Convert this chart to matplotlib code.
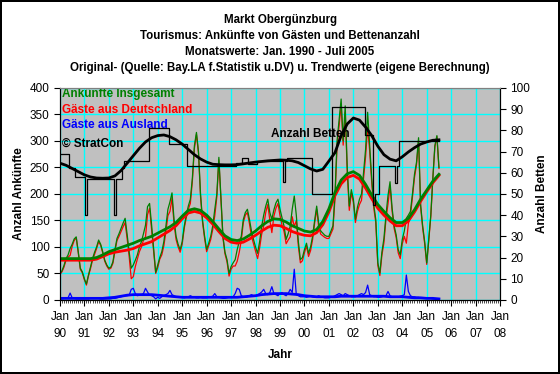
import numpy as np
import matplotlib.pyplot as plt
from matplotlib.ticker import MultipleLocator

plt.rcParams['font.family'] = ['Liberation Sans', 'DejaVu Sans']

# monthly arrivals, Jan 1990 .. Jul 2005
total = [
    50, 55, 65, 78, 85, 97, 105, 115, 119, 91, 60, 53,        # 1990
    40, 30, 47, 62, 78, 90, 100, 113, 105, 91, 75, 66,        # 1991
    60, 62, 72, 95, 116, 125, 135, 145, 154, 123, 90, 60,     # 1992
    66, 75, 85, 100, 110, 125, 141, 176, 182, 141, 97, 52,    # 1993
    66, 80, 91, 110, 139, 171, 185, 202, 152, 120, 105, 95,   # 1994
    110, 139, 160, 177, 190, 230, 291, 316, 280, 200, 150, 120,  # 1995
    95, 107, 120, 140, 171, 200, 269, 196, 120, 90, 76, 50,   # 1996
    63, 70, 76, 95, 110, 120, 152, 165, 171, 152, 130, 114,   # 1997
    100, 88, 110, 139, 160, 177, 190, 165, 152, 170, 183, 190,  # 1998
    171, 155, 139, 114, 125, 139, 171, 196, 160, 110, 76, 80,   # 1999
    95, 107, 88, 100, 120, 150, 177, 145, 130, 126, 122, 120,   # 2000
    120, 130, 140, 200, 300, 340, 379, 300, 366, 250, 177, 208, # 2001
    190, 152, 175, 190, 200, 240, 284, 354, 291, 230, 180, 152, # 2002
    70, 51, 90, 116, 160, 197, 223, 174, 140, 123, 95, 85,      # 2003
    114, 130, 154, 160, 167, 200, 237, 260, 306, 180, 140, 110, # 2004
    70, 114, 160, 230, 291, 310, 250,                           # 2005
]
foreign = [
    2, 2, 3, 3, 4, 13, 4, 3, 2, 2, 2, 2,
    2, 2, 2, 3, 3, 4, 3, 3, 2, 2, 2, 2,
    2, 2, 3, 3, 4, 5, 6, 7, 8, 8, 9, 20,
    22, 12, 8, 9, 10, 12, 22, 15, 9, 8, 6, 2,
    5, 3, 6, 8, 10, 12, 18, 10, 8, 6, 5, 5,
    5, 4, 5, 6, 8, 6, 5, 4, 4, 5, 4, 4,
    4, 5, 6, 7, 12, 6, 5, 4, 3, 3, 4, 5,
    5, 6, 12, 22, 20, 8, 6, 5, 6, 8, 10, 8,
    8, 10, 12, 15, 20, 12, 10, 14, 25, 12, 10, 8,
    12, 14, 10, 8, 12, 20, 14, 58, 10, 8, 6, 6,
    6, 5, 6, 7, 6, 5, 6, 8, 6, 5, 4, 4,
    4, 5, 6, 8, 10, 12, 10, 8, 12, 10, 8, 6,
    6, 6, 8, 10, 12, 10, 14, 28, 10, 8, 6, 6,
    5, 5, 6, 8, 8, 16, 8, 6, 5, 5, 6, 7,
    8, 10, 47, 16, 8, 6, 6, 5, 5, 4, 4, 4,
    3, 3, 3, 2, 2, 2, 2,
]
beds = (
    [69] * 5 + [62] * 3 + [58] * 5 + [40] + [57] * 13 + [40] + [57] * 3 +
    [62] + [65.6] * 12 + [81] * 10 + [73.4] * 9 + [63.2] * 24 +
    [64.8] * 3 + [66.8] * 3 + [64.2] * 4 + [65.6] * 13 + [55.8] + [65.6] +
    [66.8] * 12 + [49.8] * 10 + [91] * 16 + [78] * 4 + [45] + [50] * 2 +
    [63] * 8 + [55] + [63] + [75] * 20
)

# trend values, every 3rd month from Jan 1990
trend_total = [
    78, 78, 78, 78, 78, 78, 80, 85, 91, 95, 99, 103, 107, 112, 116, 120,
    126, 132, 138, 146, 158, 169, 172, 169, 160, 148, 134, 121, 114, 112,
    115, 122, 130, 140, 148, 153, 152, 147, 140, 135, 130, 128, 133, 148,
    172, 203, 226, 238, 242, 235, 218, 198, 180, 167, 155, 146, 146, 154,
    170, 190, 207, 224, 237,
]
trend_foreign = [
    3, 3, 3, 3, 3, 3, 3, 3, 4, 5, 7, 9, 10, 10, 10, 10, 9, 8, 7, 6, 5, 5,
    5, 5, 5, 5, 5, 5, 5, 5, 6, 7, 8, 10, 11, 12, 12, 12, 11, 10, 8, 7, 6,
    6, 6, 6, 7, 7, 7, 7, 7, 7, 7, 7, 6, 6, 6, 5, 4, 4, 3, 3, 2,
]
trend_beds = [
    64.5, 63.5, 62, 60.5, 59, 58, 57.5, 57.4, 57.5, 58.5, 61, 64.5, 68,
    71.5, 74.5, 76.5, 77.5, 77.8, 77, 75.5, 73.5, 71, 68.5, 66.5, 65, 64,
    63.8, 63.7, 63.7, 63.8, 64.2, 64.6, 65, 65.3, 65.6, 65.8, 66, 65.9,
    65.6, 64.8, 63.3, 61.8, 60.8, 61.6, 65.5, 69.5, 77.5, 83, 85.8, 84.8,
    81.5, 77.5, 72.5, 68.5, 66.4, 65.6, 67.5, 69.8, 71.8, 73.5, 74.5,
    75.3, 75.5,
]
year_labels = ['90', '91', '92', '93', '94', '95', '96', '97', '98', '99',
               '00', '01', '02', '03', '04', '05', '06', '07', '08']

total = np.array(total, float)
foreign = np.array(foreign, float)
germany = total - foreign
months = np.arange(len(total))
tmonths = np.arange(len(trend_total)) * 3
trend_total = np.array(trend_total, float)
trend_foreign = np.array(trend_foreign, float)
trend_germany = trend_total - trend_foreign

fig = plt.figure(figsize=(5.6, 3.74), dpi=100)
fig.patch.set_edgecolor('black')
fig.patch.set_linewidth(1.5)
ax = fig.add_axes([0.107, 0.198, 0.786, 0.567])
ax.set_facecolor('#C0C0C0')

ax.plot(months, germany, color='#FF0000', lw=0.9)
ax.plot(months, total, color='#008000', lw=0.9)
ax.plot(months, foreign, color='#0000FF', lw=0.9)
ax.plot(tmonths, trend_germany, color='#FF0000', lw=2.0)
ax.plot(tmonths, trend_total, color='#008000', lw=2.0)
ax.plot(tmonths, trend_foreign, color='#0000FF', lw=2.0)

ax.set_xlim(0, 216)
ax.set_ylim(0, 400)
ax.set_xticks(np.arange(0, 217, 12))
ax.set_xticklabels(['Jan\n' + y for y in year_labels], fontsize=8.5,
                   linespacing=1.6)
ax.xaxis.set_minor_locator(MultipleLocator(1))
ax.yaxis.set_major_locator(MultipleLocator(50))
ax.tick_params(axis='y', labelsize=8.5, direction='out', length=4)
ax.tick_params(axis='x', which='major', direction='out', length=4, pad=4)
ax.tick_params(axis='x', which='minor', direction='out', length=2, width=0.5)
ax.grid(True, color='#00FFFF', lw=1)
ax.set_axisbelow(True)
ax.spines['top'].set_color('#808080')
ax.set_ylabel('Anzahl Ankünfte', fontsize=8.5, fontweight='bold', labelpad=3)
ax.set_xlabel('Jahr', fontsize=8.5, fontweight='bold', labelpad=6)

ax2 = ax.twinx()
ax2.plot(months, beds, color='black', lw=0.9, drawstyle='steps-mid')
ax2.plot(tmonths, trend_beds, color='black', lw=2.0)
ax2.set_ylim(0, 100)
ax2.yaxis.set_major_locator(MultipleLocator(10))
ax2.tick_params(axis='y', labelsize=8.5, direction='out', length=4)
ax2.set_ylabel('Anzahl Betten', fontsize=8.5, fontweight='bold', labelpad=4)
ax2.spines['top'].set_color('#808080')

ax.text(0.004, 0.972, 'Ankünfte Insgesamt', transform=ax.transAxes,
        color='#008000', fontsize=8.5, fontweight='bold', va='center')
ax.text(0.004, 0.896, 'Gäste aus Deutschland', transform=ax.transAxes,
        color='#FF0000', fontsize=8.5, fontweight='bold', va='center')
ax.text(0.004, 0.826, 'Gäste aus Ausland', transform=ax.transAxes,
        color='#0000FF', fontsize=8.5, fontweight='bold', va='center')
ax.text(0.004, 0.736, '© StratCon', transform=ax.transAxes,
        color='black', fontsize=8.5, fontweight='bold', va='center')
ax.text(0.48, 0.783, 'Anzahl Betten', transform=ax.transAxes,
        color='black', fontsize=8.5, fontweight='bold', va='center')

titles = ['Markt Obergünzburg',
          'Tourismus: Ankünfte von Gästen und Bettenanzahl',
          'Monatswerte: Jan. 1990 - Juli 2005',
          'Original- (Quelle: Bay.LA f.Statistik u.DV) u. Trendwerte (eigene Berechnung)']
for i, t in enumerate(titles):
    fig.text(0.5, 1 - (20 + 16 * i) / 374, t, ha='center', va='center',
             fontsize=8.3, fontweight='bold')

fig.savefig('out.png', dpi=100, edgecolor=fig.get_edgecolor())
